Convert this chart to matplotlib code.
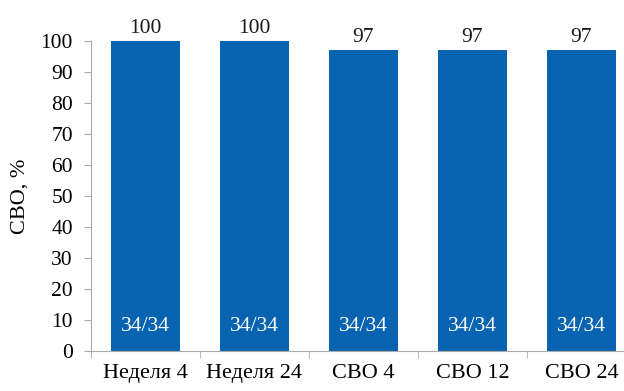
import matplotlib.pyplot as plt
import numpy as np

categories = ['Неделя 4', 'Неделя 24', 'СВО 4', 'СВО 12', 'СВО 24']
values = [100, 100, 97, 97, 97]
inner_labels = ['34/34', '34/34', '34/34', '34/34', '34/34']

plt.rcParams['font.family'] = ['Liberation Serif', 'DejaVu Serif']

fig = plt.figure(figsize=(6.24, 3.91), dpi=100)
ax = fig.add_axes([0.1458, 0.1023, 1 - 0.1458, 0.7928])

x = np.arange(len(categories))
bars = ax.bar(x, values, width=0.63, color='#0864b1')

for xi, v, lab in zip(x, values, inner_labels):
    ax.text(xi, v + 1.0, str(v), ha='center', va='bottom', fontsize=15.5, color='#1a1a1a')
    ax.text(xi, 8.0, lab, ha='center', va='center', fontsize=15.5, color='white')

ax.set_xlim(-0.5, 4.39)
ax.set_ylim(0, 100)
ax.set_yticks(range(0, 101, 10))
ax.set_xticks(x)
ax.set_xticklabels(categories)
ax.set_xticks(np.arange(-0.5, 4.5, 1), minor=True)
ax.tick_params(axis='x', which='major', length=0, labelsize=16, pad=9)
ax.tick_params(axis='x', which='minor', length=5, color='#aaaaaa', direction='out')
ax.tick_params(axis='y', length=5, color='#aaaaaa', labelsize=15.5, pad=8)

for s in ['top', 'right']:
    ax.spines[s].set_visible(False)
for s in ['left', 'bottom']:
    ax.spines[s].set_color('#aaaaaa')

ax.set_ylabel('СВО, %', fontsize=16, labelpad=8)

fig.savefig('out.png', dpi=100)
